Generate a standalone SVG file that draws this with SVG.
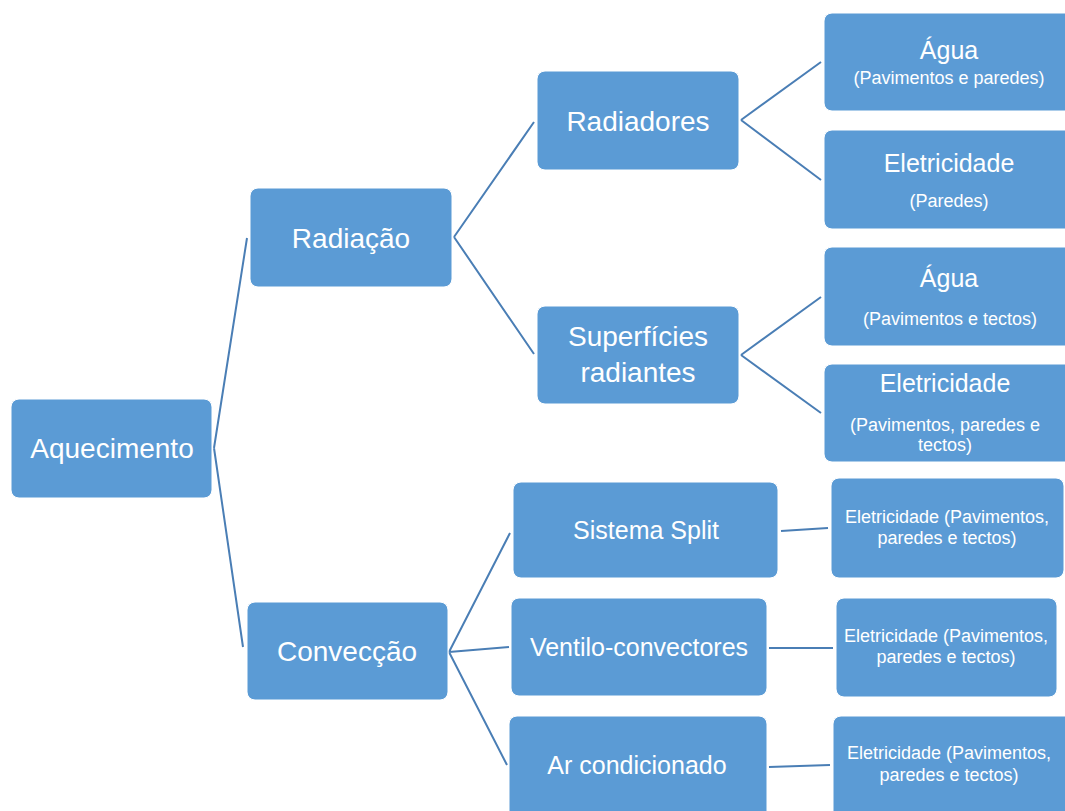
<svg xmlns="http://www.w3.org/2000/svg" width="1065" height="811" viewBox="0 0 1065 811">
<style>
.box{fill:#5B9BD5;stroke:#ffffff;stroke-width:1}
.t{font-family:"Liberation Sans",Arial,sans-serif;fill:#ffffff;text-anchor:middle}
.l{font-size:28px}
.m{font-size:25px}
.s{font-size:18px}
.c{stroke:#4A7EB5;stroke-width:2;fill:none}
</style>
<rect width="1065" height="811" fill="#ffffff"/>
<g id="connectors">
<path class="c" d="M214,448 L247,238 M214,448 L243,647"/>
<path class="c" d="M454,237 L534,122 M454,237 L534,354"/>
<path class="c" d="M741,120 L821,62 M741,120 L821,180"/>
<path class="c" d="M741,355 L821,297 M741,355 L821,413"/>
<path class="c" d="M449,652 L510,533 M449,652 L509,647 M449,652 L507,765"/>
<path class="c" d="M781,531 L828,528"/>
<path class="c" d="M769,648 L833,648"/>
<path class="c" d="M769,767 L830,765"/>
</g>
<g id="aquecimento">
<rect class="box" x="11" y="399" width="201" height="99" rx="8"/>
<text class="t l" x="112" y="458">Aquecimento</text>
</g>
<g id="radiacao">
<rect class="box" x="250" y="188" width="202" height="99" rx="8"/>
<text class="t l" x="351" y="248">Radiação</text>
</g>
<g id="conveccao">
<rect class="box" x="247" y="602" width="201" height="98" rx="8"/>
<text class="t l" x="347" y="661">Convecção</text>
</g>
<g id="radiadores">
<rect class="box" x="537" y="71" width="202" height="99" rx="8"/>
<text class="t l" x="638" y="131">Radiadores</text>
</g>
<g id="superficies">
<rect class="box" x="537" y="306" width="202" height="98" rx="8"/>
<text class="t l" x="638" y="346">Superfícies</text>
<text class="t l" x="638" y="382">radiantes</text>
</g>
<g id="agua1">
<rect class="box" x="824" y="13" width="250" height="98" rx="8"/>
<text class="t m" x="949" y="59">Água</text>
<text class="t s" x="949" y="84">(Pavimentos e paredes)</text>
</g>
<g id="eletricidade1">
<rect class="box" x="824" y="130" width="250" height="99" rx="8"/>
<text class="t m" x="949" y="172">Eletricidade</text>
<text class="t s" x="949" y="207">(Paredes)</text>
</g>
<g id="agua2">
<rect class="box" x="824" y="247" width="250" height="99" rx="8"/>
<text class="t m" x="949" y="287">Água</text>
<text class="t s" x="950" y="325">(Pavimentos e tectos)</text>
</g>
<g id="eletricidade2">
<rect class="box" x="824" y="364" width="250" height="98" rx="8"/>
<text class="t m" x="945" y="392">Eletricidade</text>
<text class="t s" x="945" y="431">(Pavimentos, paredes e</text>
<text class="t s" x="945" y="451">tectos)</text>
</g>
<g id="split">
<rect class="box" x="513" y="482" width="265" height="96" rx="8"/>
<text class="t m" x="646" y="539">Sistema Split</text>
</g>
<g id="ventilo">
<rect class="box" x="511" y="598" width="256" height="98" rx="8"/>
<text class="t m" x="639" y="656">Ventilo-convectores</text>
</g>
<g id="ar">
<rect class="box" x="509" y="716" width="258" height="104" rx="8"/>
<text class="t m" x="637" y="774">Ar condicionado</text>
</g>
<g id="elet-split">
<rect class="box" x="831" y="478" width="233" height="100" rx="8"/>
<text class="t s" x="947" y="523">Eletricidade (Pavimentos,</text>
<text class="t s" x="947" y="544">paredes e tectos)</text>
</g>
<g id="elet-ventilo">
<rect class="box" x="836" y="598" width="221" height="99" rx="8"/>
<text class="t s" x="946" y="642">Eletricidade (Pavimentos,</text>
<text class="t s" x="946" y="663">paredes e tectos)</text>
</g>
<g id="elet-ar">
<rect class="box" x="833" y="716" width="240" height="104" rx="8"/>
<text class="t s" x="949" y="759">Eletricidade (Pavimentos,</text>
<text class="t s" x="949" y="781">paredes e tectos)</text>
</g>
</svg>
